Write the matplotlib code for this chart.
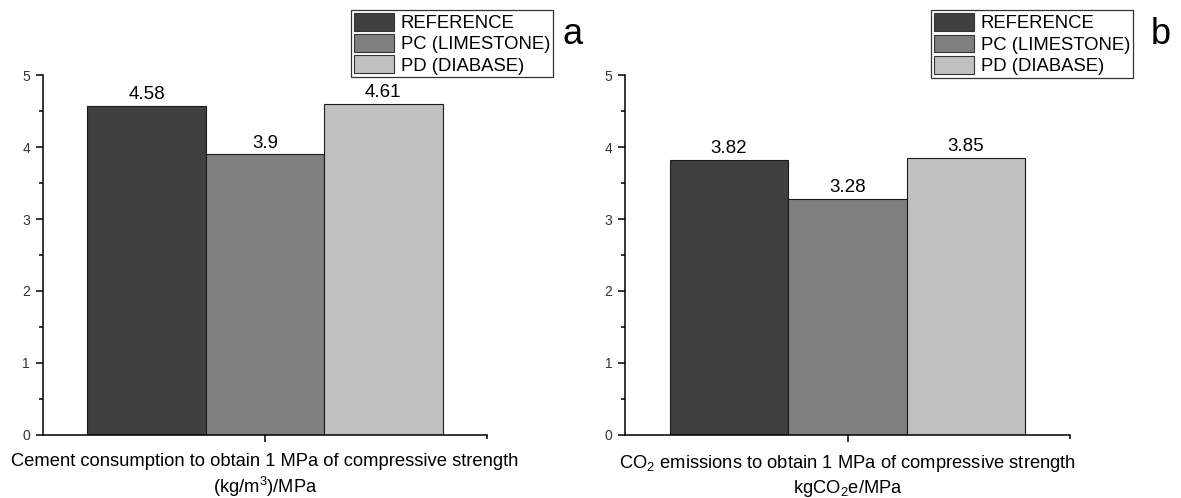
import numpy as np
import matplotlib.pyplot as plt
from matplotlib.ticker import MultipleLocator, FixedLocator

# data
series = ["REFERENCE", "PC (LIMESTONE)", "PD (DIABASE)"]
cement_per_mpa = [4.58, 3.9, 4.61]
co2_per_mpa = [3.82, 3.28, 3.85]
xlabel_a = "Cement consumption to obtain 1 MPa of compressive strength\n(kg/m$^3$)/MPa"
xlabel_b = "CO$_2$ emissions to obtain 1 MPa of compressive strength\nkgCO$_2$e/MPa"

colors = ["#404040", "#808080", "#c0c0c0"]

plt.rcParams.update({
    "font.family": ["Liberation Sans", "DejaVu Sans"],
    "mathtext.fontset": "custom",
    "mathtext.rm": "Liberation Sans",
    "mathtext.it": "Liberation Sans",
    "mathtext.default": "regular",
    "axes.linewidth": 1.1,
})

fig = plt.figure(figsize=(11.81, 4.98), dpi=100)
W, H = 1181, 498


def panel(left_px, values, xlabel, letter, legend_px, letter_px):
    ax = fig.add_axes([left_px / W, 1 - 434.5 / H, 445 / W, (434.5 - 75.5) / H])
    x = np.arange(len(values))
    bars = ax.bar(x, values, width=1.0, color=colors, edgecolor="#1a1a1a",
                  linewidth=0.8, label=series)
    ax.bar_label(bars, labels=[str(v) for v in values], padding=2, fontsize=13.5)

    ax.set_xlim(-0.88, 2.88)
    ax.set_ylim(0, 5)
    ax.spines["top"].set_visible(False)
    ax.spines["right"].set_visible(False)

    ax.set_xticks([1])
    ax.set_xticklabels([])
    ax.xaxis.set_minor_locator(FixedLocator([2.88]))
    ax.yaxis.set_major_locator(MultipleLocator(1))
    ax.yaxis.set_minor_locator(MultipleLocator(0.5))
    ax.tick_params(axis="both", which="major", direction="out", length=5,
                   width=1.1, labelsize=10, labelcolor="#333333", pad=4)
    ax.tick_params(axis="both", which="minor", direction="out", length=3, width=1.1)

    ax.set_xlabel(xlabel, fontsize=13.2, labelpad=4, linespacing=1.32)

    leg = ax.legend(loc="upper left",
                    bbox_to_anchor=(legend_px[0] / W, 1 - legend_px[1] / H),
                    bbox_transform=fig.transFigure, borderaxespad=0,
                    fontsize=13.3, fancybox=False, framealpha=1,
                    edgecolor="#333333", handlelength=2.2, handleheight=1.1,
                    handletextpad=0.35, labelspacing=0.12, borderpad=0.15)
    leg.get_frame().set_linewidth(0.9)
    for p in leg.get_patches():
        p.set_edgecolor("#333333")

    fig.text(letter_px[0] / W, 1 - letter_px[1] / H, letter, fontsize=26,
             ha="left", va="center")
    return ax


panel(42.5, cement_per_mpa, xlabel_a, "a", (351, 10), (563, 34))
panel(625, co2_per_mpa, xlabel_b, "b", (931, 10.5), (1151, 34))

fig.savefig("out.png", dpi=100)
plt.close(fig)
